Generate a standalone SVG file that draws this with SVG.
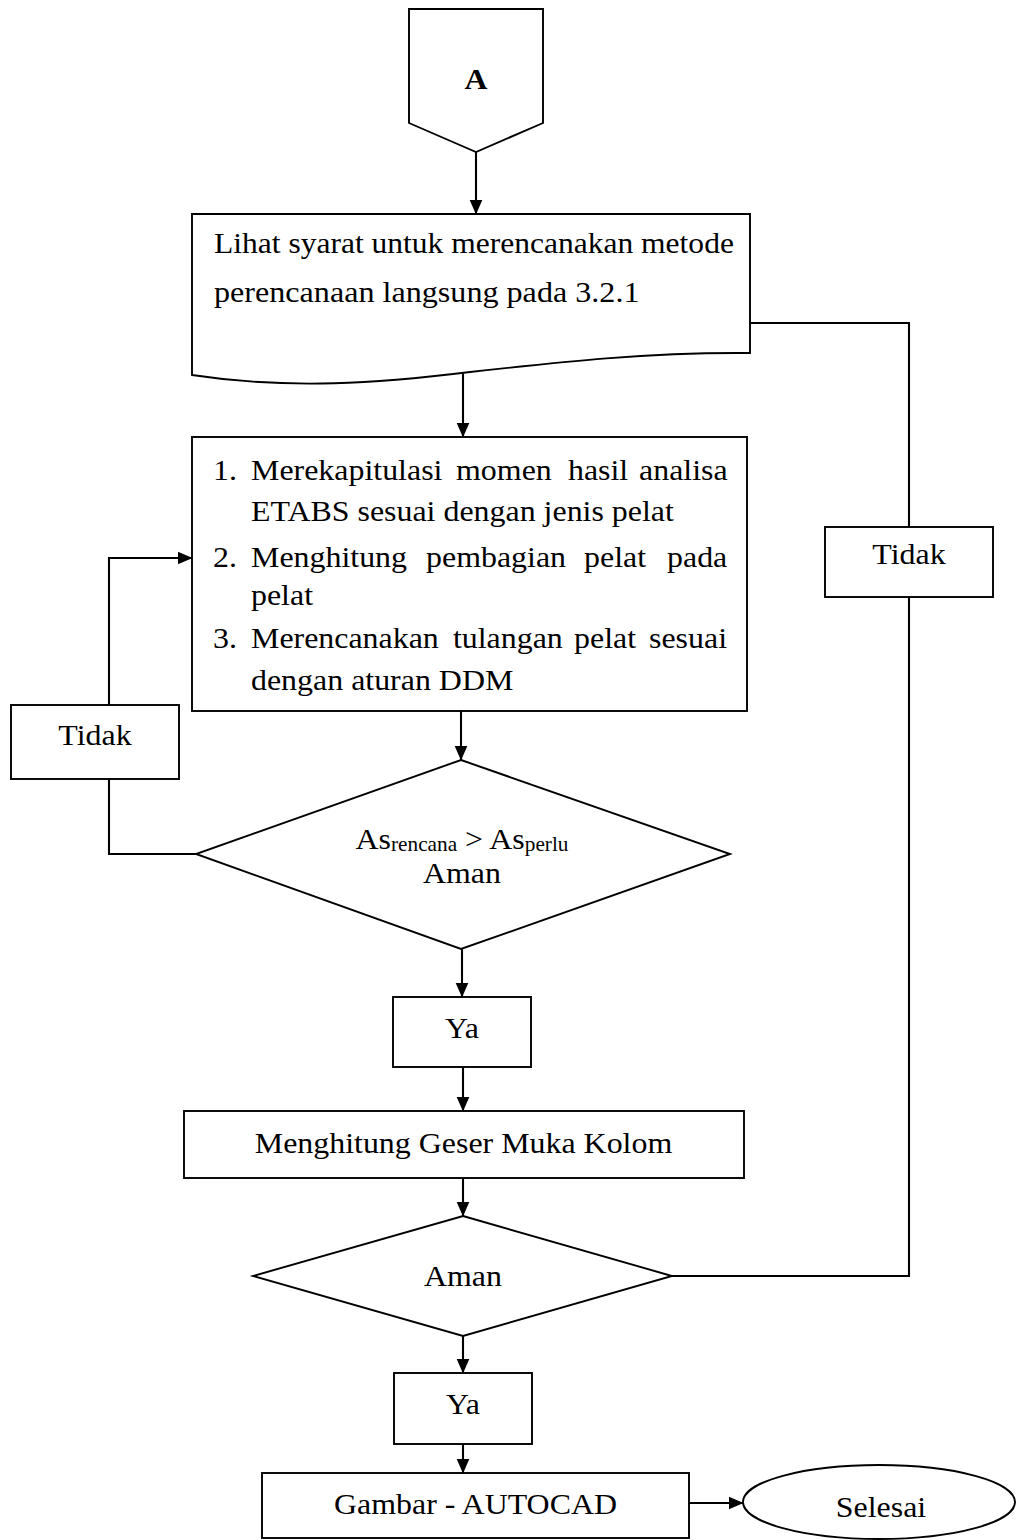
<svg xmlns="http://www.w3.org/2000/svg" width="1018" height="1540" viewBox="0 0 1018 1540">
<style>
.s{fill:#fff;stroke:#000;stroke-width:1.9}
.c{fill:none;stroke:#000;stroke-width:2.1}
.t{font-family:"Liberation Serif","Times New Roman",serif;font-size:30px;fill:#000}
.m{text-anchor:middle}
.sub{font-size:20px}
</style>
<defs>
<marker id="ah" markerUnits="userSpaceOnUse" markerWidth="15" markerHeight="15" viewBox="0 0 15 15" refX="14.5" refY="7.5" orient="auto">
<path d="M0,1 L15,7.5 L0,14 z" fill="#000"/>
</marker>
</defs>
<rect width="1018" height="1540" fill="#fff"/>

<g id="connectors">
<line class="c" x1="476" y1="152" x2="476" y2="214" marker-end="url(#ah)"/>
<line class="c" x1="463" y1="373" x2="463" y2="437" marker-end="url(#ah)"/>
<line class="c" x1="461" y1="711" x2="461" y2="760" marker-end="url(#ah)"/>
<line class="c" x1="462" y1="949" x2="462" y2="997" marker-end="url(#ah)"/>
<line class="c" x1="463" y1="1067" x2="463" y2="1111" marker-end="url(#ah)"/>
<line class="c" x1="463" y1="1178" x2="463" y2="1216" marker-end="url(#ah)"/>
<line class="c" x1="463" y1="1336" x2="463" y2="1373" marker-end="url(#ah)"/>
<line class="c" x1="463" y1="1444" x2="463" y2="1473" marker-end="url(#ah)"/>
<line class="c" x1="689" y1="1503" x2="743" y2="1503" marker-end="url(#ah)"/>
<polyline class="c" points="196,854 109,854 109,779"/>
<polyline class="c" points="109,705 109,558 192,558" marker-end="url(#ah)"/>
<polyline class="c" points="750,323 909,323 909,527"/>
<polyline class="c" points="909,597 909,1276 672,1276"/>
</g>

<g id="nodeA">
<polygon class="s" points="409,9 543,9 543,123 476,152 409,123"/>
<text class="t m" font-weight="bold" font-size="26" transform="translate(476,89) scale(1.06,1)">A</text>
</g>

<g id="doc">
<path class="s" d="M192,214 H750 V353 C650,352 560,362 470,372 C380,383 290,390 192,375 Z"/>
<text class="t" transform="translate(214,253) scale(1.051,1)">Lihat syarat untuk merencanakan metode</text>
<text class="t" transform="translate(214,302) scale(1.071,1)">perencanaan langsung pada 3.2.1</text>
</g>

<g id="steps">
<rect class="s" x="192" y="437" width="555" height="274"/>
<text class="t" transform="translate(213,480) scale(1.064,1)">1.</text>
<text class="t" transform="translate(251,480) scale(1.064,1)"><tspan x="0">Merekapitulasi</tspan><tspan x="192.7">momen</tspan><tspan x="297.9">hasil</tspan><tspan x="364.7">analisa</tspan></text>
<text class="t" transform="translate(251,521) scale(1.064,1)">ETABS sesuai dengan jenis pelat</text>
<text class="t" transform="translate(213,567) scale(1.064,1)">2.</text>
<text class="t" transform="translate(251,567) scale(1.064,1)"><tspan x="0">Menghitung</tspan><tspan x="164.5">pembagian</tspan><tspan x="313">pelat</tspan><tspan x="391">pada</tspan></text>
<text class="t" transform="translate(251,605) scale(1.064,1)">pelat</text>
<text class="t" transform="translate(213,648) scale(1.064,1)">3.</text>
<text class="t" transform="translate(251,648) scale(1.064,1)"><tspan x="0">Merencanakan</tspan><tspan x="189.8">tulangan</tspan><tspan x="303.6">pelat</tspan><tspan x="374.1">sesuai</tspan></text>
<text class="t" transform="translate(251,690) scale(1.064,1)">dengan aturan DDM</text>
</g>

<g id="tidakLeft">
<rect class="s" x="11" y="705" width="168" height="74"/>
<text class="t m" transform="translate(95,745) scale(1.064,1)">Tidak</text>
</g>

<g id="tidakRight">
<rect class="s" x="825" y="527" width="168" height="70"/>
<text class="t m" transform="translate(909,564) scale(1.064,1)">Tidak</text>
</g>

<g id="decision1">
<polygon class="s" points="461,760 730,854 461,949 196,854"/>
<text class="t m" transform="translate(462,849) scale(1.064,1)">As<tspan class="sub" dy="2">rencana</tspan><tspan dy="-2"> &gt; As</tspan><tspan class="sub" dy="2">perlu</tspan></text>
<text class="t m" transform="translate(462,883) scale(1.064,1)">Aman</text>
</g>

<g id="ya1">
<rect class="s" x="393" y="997" width="138" height="70"/>
<text class="t m" transform="translate(462,1038) scale(1.064,1)">Ya</text>
</g>

<g id="geser">
<rect class="s" x="184" y="1111" width="560" height="67"/>
<text class="t m" transform="translate(463.5,1153) scale(1.064,1)">Menghitung Geser Muka Kolom</text>
</g>

<g id="decision2">
<polygon class="s" points="463,1216 672,1276 463,1336 253,1276"/>
<text class="t m" transform="translate(463,1286) scale(1.064,1)">Aman</text>
</g>

<g id="ya2">
<rect class="s" x="394" y="1373" width="138" height="71"/>
<text class="t m" transform="translate(463,1414) scale(1.064,1)">Ya</text>
</g>

<g id="gambar">
<rect class="s" x="262" y="1473" width="427" height="65"/>
<text class="t m" transform="translate(475.5,1514) scale(1.064,1)">Gambar - AUTOCAD</text>
</g>

<g id="selesai">
<ellipse class="s" cx="879" cy="1502" rx="136" ry="37"/>
<text class="t m" transform="translate(881,1517) scale(1.064,1)">Selesai</text>
</g>
</svg>
